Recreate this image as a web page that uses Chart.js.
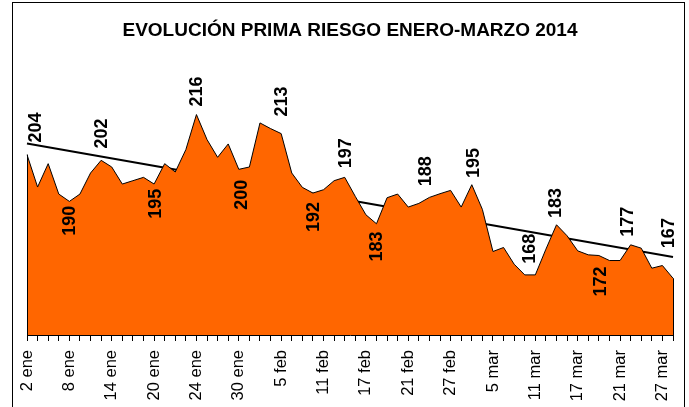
<!DOCTYPE html>
<html lang="es">
<head>
    <meta charset="UTF-8">
    <title>Evolución prima riesgo</title>
    <script src="https://cdn.jsdelivr.net/npm/chart.js"></script>
    <style>
        html, body { margin: 0; padding: 0; background: #fff; overflow: hidden; }
        #wrap { width: 689px; height: 407px; }
    </style>
</head>
<body>
    <div id="wrap"><canvas id="myChart" width="689" height="407"></canvas></div>

    <script>
        // sesiones enero-marzo 2014
        const dias = [
            '2 ene', '3 ene', '6 ene', '7 ene', '8 ene', '9 ene', '10 ene', '13 ene', '14 ene', '15 ene',
            '16 ene', '17 ene', '20 ene', '21 ene', '22 ene', '23 ene', '24 ene', '27 ene', '28 ene', '29 ene',
            '30 ene', '31 ene', '3 feb', '4 feb', '5 feb', '6 feb', '7 feb', '10 feb', '11 feb', '12 feb',
            '13 feb', '14 feb', '17 feb', '18 feb', '19 feb', '20 feb', '21 feb', '24 feb', '25 feb', '26 feb',
            '27 feb', '28 feb', '3 mar', '4 mar', '5 mar', '6 mar', '7 mar', '10 mar', '11 mar', '12 mar',
            '13 mar', '14 mar', '17 mar', '18 mar', '19 mar', '20 mar', '21 mar', '24 mar', '25 mar', '26 mar',
            '27 mar', '28 mar'
        ];
        // prima de riesgo (puntos básicos)
        const prima = [
            204, 194.3, 201.3, 192.2, 190, 192.2, 198.5, 202.3, 200.3, 195.2,
            196.2, 197.2, 195.2, 201.3, 198.8, 205.5, 216, 208.5, 203.2, 207.2,
            199.6, 200.3, 213.5, 211.8, 210.3, 198.5, 194.2, 192.5, 193.5, 196.2,
            197.2, 191.5, 186, 183.3, 191.1, 192.2, 188.3, 189.4, 191.2, 192.3,
            193.3, 188.3, 195, 187.6, 175, 176.2, 171.2, 168, 168, 175.7,
            183, 179.7, 175.2, 174, 173.8, 172.3, 172.3, 177, 176, 170,
            170.8, 167
        ];
        // etiquetas de valor: posición (sesión, nivel) y texto
        const etiqSesion = [0.75, 4, 7, 12.05, 16, 20.2, 24, 27, 30, 33, 37.6, 42.1, 47.4, 49.9, 54.1, 56.7, 60.5];
        const etiqNivel  = [212.1, 184.2, 210.3, 189.3, 222.9, 192, 219.9, 185.3, 204.4, 176.5, 199, 201.5, 175.8, 189.5, 166, 183.9, 180.5];
        const etiqTexto  = ['204', '190', '202', '195', '216', '200', '213', '192', '197', '183', '188', '195', '168', '183', '172', '177', '167'];

        // tendencia lineal (mínimos cuadrados, como la línea de tendencia de Excel)
        function tendencia(vals) {
            const n = vals.length;
            let sx = 0, sy = 0, sxy = 0, sxx = 0;
            vals.forEach((v, i) => { sx += i; sy += v; sxy += i * v; sxx += i * i; });
            const b = (n * sxy - sx * sy) / (n * sxx - sx * sx);
            const a = (sy - b * sx) / n;
            return vals.map((v, i) => (i === 0 || i === n - 1) ? a + b * i : null);
        }

        const FONT = '"Liberation Sans", Arial, sans-serif';

        const marco = {
            id: 'marco',
            beforeDraw(chart) {
                const ctx = chart.ctx;
                ctx.save();
                ctx.fillStyle = '#fff';
                ctx.fillRect(0, 0, chart.width, chart.height);
                ctx.strokeStyle = '#000';
                ctx.lineWidth = 1;
                ctx.strokeRect(12.5, 2.5, 672, 440);
                ctx.restore();
            }
        };

        const bordesArea = {
            id: 'bordesArea',
            afterDatasetsDraw(chart) {
                const ctx = chart.ctx;
                const pts = chart.getDatasetMeta(0).data;
                const base = chart.chartArea.bottom;
                ctx.save();
                ctx.strokeStyle = '#000';
                ctx.lineWidth = 1;
                [pts[0], pts[pts.length - 1]].forEach(p => {
                    ctx.beginPath();
                    ctx.moveTo(Math.round(p.x) + 0.5, base);
                    ctx.lineTo(Math.round(p.x) + 0.5, p.y);
                    ctx.stroke();
                });
                ctx.restore();
            }
        };

        const etiquetas = {
            id: 'etiquetas',
            afterDatasetsDraw(chart) {
                const ctx = chart.ctx;
                const xs = chart.scales.x, ys = chart.scales.y;
                ctx.save();
                ctx.fillStyle = '#000';
                ctx.font = 'bold 18px ' + FONT;
                ctx.textAlign = 'center';
                ctx.textBaseline = 'middle';
                etiqTexto.forEach((t, i) => {
                    const x = xs.getPixelForValue(etiqSesion[i]);
                    const y = ys.getPixelForValue(etiqNivel[i]);
                    ctx.save();
                    ctx.translate(x, y);
                    ctx.rotate(-Math.PI / 2);
                    ctx.fillText(t, 0, 1);
                    ctx.restore();
                });
                ctx.restore();
            }
        };

        const ctx = document.getElementById('myChart').getContext('2d');
        new Chart(ctx, {
            type: 'line',
            data: {
                labels: dias,
                datasets: [{
                    label: 'Prima de riesgo',
                    data: prima,
                    borderColor: '#000',
                    borderWidth: 1,
                    backgroundColor: '#ff6600',
                    fill: 'start',
                    pointRadius: 0,
                    tension: 0
                }, {
                    label: 'Tendencia',
                    data: tendencia(prima),
                    borderColor: '#000',
                    borderWidth: 2,
                    fill: false,
                    pointRadius: 0,
                    spanGaps: true
                }]
            },
            options: {
                responsive: false,
                animation: false,
                layout: { padding: { left: 27, right: 16, top: 0, bottom: 0 } },
                plugins: {
                    legend: { display: false },
                    tooltip: { enabled: false },
                    title: {
                        display: true,
                        text: 'EVOLUCIÓN PRIMA RIESGO ENERO-MARZO 2014',
                        color: '#000',
                        font: { family: FONT, size: 19, weight: 'bold' },
                        padding: { top: 19, bottom: 26 }
                    }
                },
                scales: {
                    x: {
                        offset: false,
                        afterFit: (scale) => {
                            scale.paddingLeft = 0;
                            scale.paddingRight = 0;
                            scale.height = 72;
                        },
                        grid: {
                            display: true,
                            drawOnChartArea: false,
                            drawTicks: true,
                            tickLength: 6,
                            color: '#000'
                        },
                        border: { display: true, color: '#000', width: 1 },
                        ticks: {
                            autoSkip: false,
                            maxRotation: 90,
                            minRotation: 90,
                            padding: 9,
                            color: '#000',
                            font: { family: FONT, size: 16.5 },
                            callback: (v, i) => i % 4 === 0 ? dias[i] : ''
                        }
                    },
                    y: {
                        display: false,
                        min: 150,
                        max: 230
                    }
                }
            },
            plugins: [marco, bordesArea, etiquetas]
        });
    </script>
</body>
</html>
